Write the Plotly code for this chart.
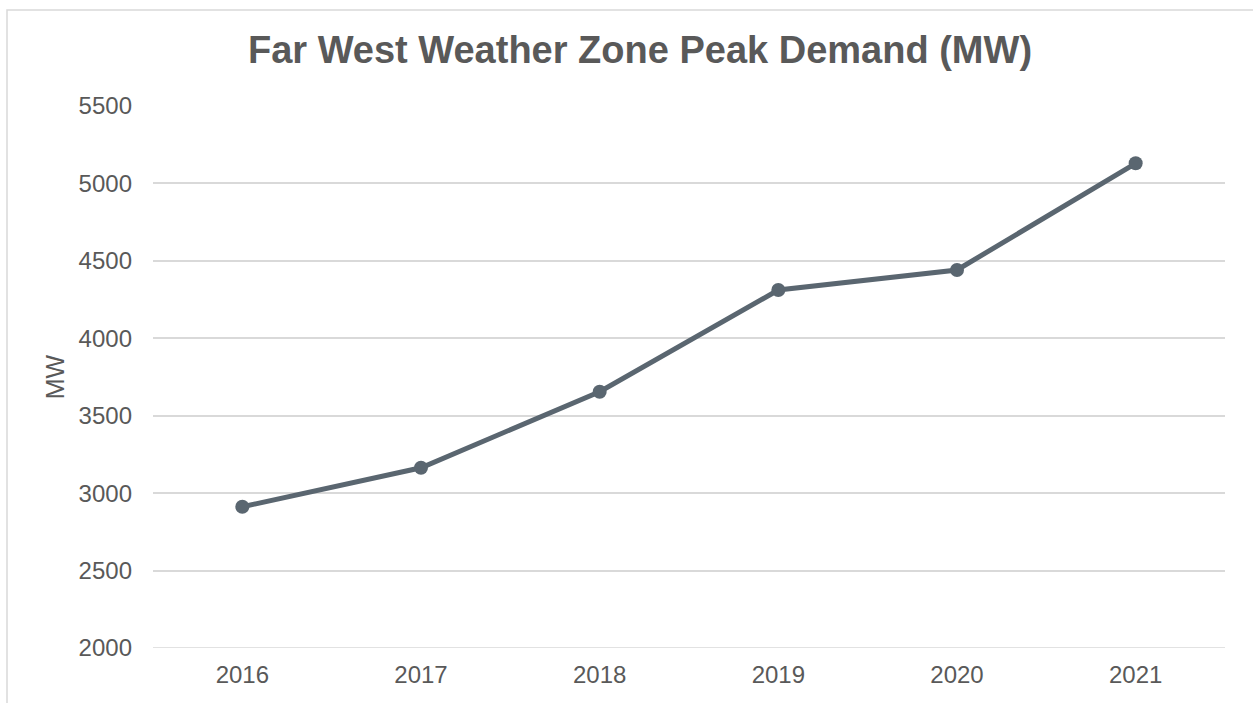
import plotly.graph_objects as go

years = ["2016", "2017", "2018", "2019", "2020", "2021"]
peak_mw = [2912, 3164, 3655, 4312, 4441, 5130]
y_ticks = [2000, 2500, 3000, 3500, 4000, 4500, 5000, 5500]

W, H = 1253, 703
L, R, T, B = 153, 28, 106, 55

fig = go.Figure()
fig.add_trace(go.Scatter(
    x=years, y=peak_mw, mode="lines+markers",
    line=dict(color="#5a6670", width=5),
    marker=dict(color="#5a6670", size=14),
    showlegend=False, hoverinfo="x+y",
))

pw, ph = W - L - R, H - T - B
# chart border (extends past right/bottom edges)
fig.add_shape(type="rect", xref="paper", yref="paper",
              x0=(7 - L) / pw, x1=1 + (R + 20) / pw,
              y0=-(B + 20) / ph, y1=1 + (T - 10) / ph,
              line=dict(color="#d9d9d9", width=1.5), layer="below")
# bottom gridline at the lower range edge
fig.add_shape(type="line", xref="paper", yref="y", x0=0, x1=1,
              y0=y_ticks[0], y1=y_ticks[0],
              line=dict(color="#d9d9d9", width=1.5), layer="below")

fig.update_layout(
    width=W, height=H,
    margin=dict(l=L, r=R, t=T, b=B),
    paper_bgcolor="white", plot_bgcolor="white",
    font=dict(family="Liberation Sans, Arial, sans-serif", color="#595959", size=24),
    title=dict(text="<b>Far West Weather Zone Peak Demand (MW)</b>",
               x=640 / W, xref="container", xanchor="center",
               y=1 - 50 / H, yanchor="middle",
               font=dict(size=38, color="#595959")),
    xaxis=dict(type="category", range=[-0.5, 5.5], showgrid=False, showline=False,
               ticks="", ticklabelstandoff=10,
               tickfont=dict(size=24, color="#595959")),
    yaxis=dict(range=[2000, 5500], tickvals=y_ticks, showgrid=True,
               gridcolor="#d9d9d9", gridwidth=1.5, zeroline=False, showline=False,
               ticks="", ticklabelstandoff=20,
               tickfont=dict(size=24, color="#595959"),
               title=dict(text="MW", standoff=6, font=dict(size=25, color="#595959"))),
)

fig.write_html("out.html", config={"displayModeBar": False},
               post_script="document.body.style.margin='0';")
